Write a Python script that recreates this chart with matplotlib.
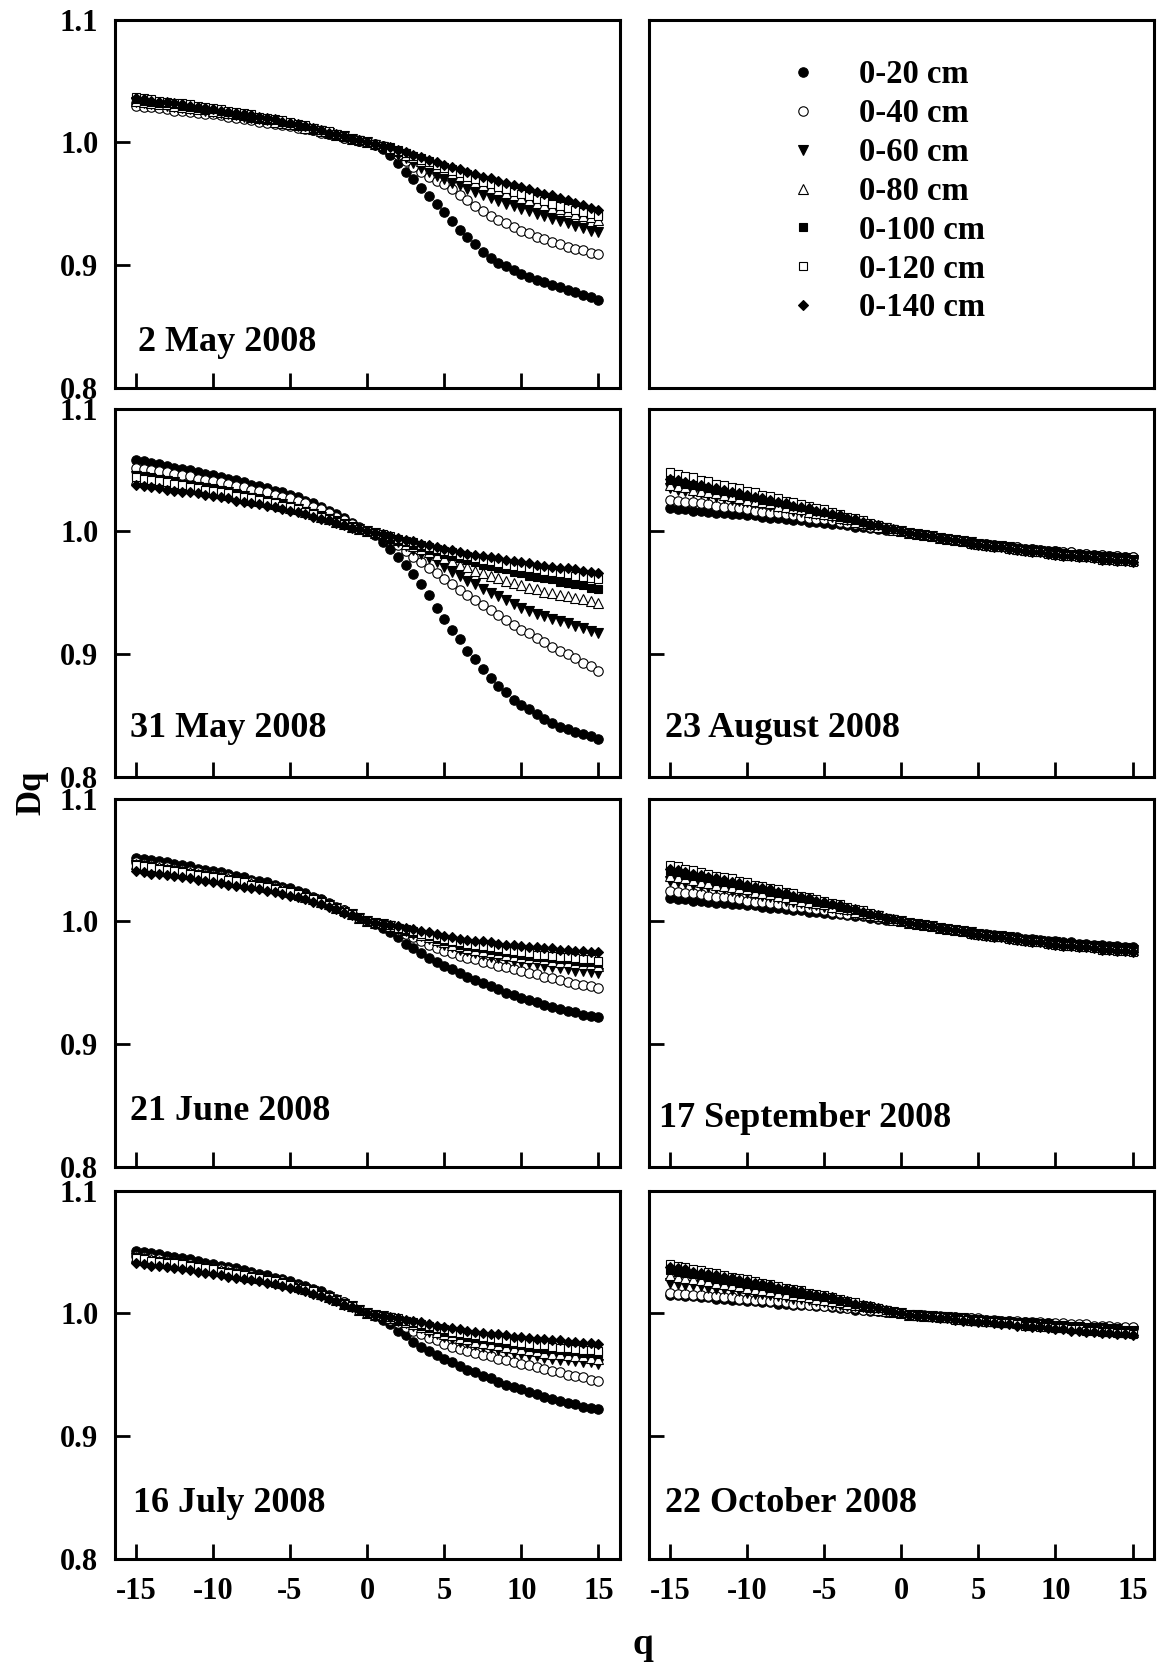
import numpy as np
import matplotlib
matplotlib.use("Agg")
import matplotlib.pyplot as plt

plt.rcParams['font.family'] = ['Liberation Serif', 'DejaVu Serif']
plt.rcParams['font.weight'] = 'bold'
plt.rcParams['axes.unicode_minus'] = False

q = [-15, -14.5, -14, -13.5, -13, -12.5, -12, -11.5, -11, -10.5,
     -10, -9.5, -9, -8.5, -8, -7.5, -7, -6.5, -6, -5.5,
     -5, -4.5, -4, -3.5, -3, -2.5, -2, -1.5, -1, -0.5,
     0, 0.5, 1, 1.5, 2, 2.5, 3, 3.5, 4, 4.5,
     5, 5.5, 6, 6.5, 7, 7.5, 8, 8.5, 9, 9.5,
     10, 10.5, 11, 11.5, 12, 12.5, 13, 13.5, 14, 14.5, 15]

depths = ['0-20 cm', '0-40 cm', '0-60 cm', '0-80 cm', '0-100 cm', '0-120 cm', '0-140 cm']

# ---- 2 May 2008
may02_20 = [1.032, 1.031, 1.030, 1.030, 1.029, 1.028, 1.027, 1.027, 1.026, 1.025, 1.024, 1.023, 1.022, 1.021, 1.020, 1.020, 1.019, 1.018, 1.016, 1.015, 1.014, 1.013, 1.012, 1.010, 1.009, 1.007, 1.006, 1.004, 1.003, 1.001, 1.000,
            0.998, 0.995, 0.990, 0.983, 0.976, 0.970, 0.963, 0.956, 0.950, 0.943, 0.936, 0.929, 0.923, 0.917, 0.911, 0.906, 0.902, 0.899, 0.896, 0.893, 0.890, 0.888, 0.886, 0.884, 0.882, 0.880, 0.878, 0.876, 0.874, 0.872]
may02_40 = [1.030, 1.029, 1.029, 1.028, 1.027, 1.026, 1.026, 1.025, 1.024, 1.023, 1.023, 1.022, 1.021, 1.020, 1.019, 1.018, 1.017, 1.016, 1.015, 1.014, 1.013, 1.012, 1.011, 1.010, 1.008, 1.007, 1.006, 1.004, 1.003, 1.001, 1.000,
            0.999, 0.997, 0.994, 0.990, 0.985, 0.980, 0.976, 0.972, 0.969, 0.966, 0.962, 0.957, 0.953, 0.948, 0.944, 0.940, 0.937, 0.934, 0.931, 0.928, 0.926, 0.923, 0.921, 0.919, 0.917, 0.915, 0.913, 0.912, 0.910, 0.909]
may02_60 = [1.033, 1.032, 1.031, 1.031, 1.030, 1.029, 1.028, 1.027, 1.027, 1.026, 1.025, 1.024, 1.023, 1.022, 1.021, 1.020, 1.019, 1.018, 1.017, 1.016, 1.015, 1.013, 1.012, 1.011, 1.009, 1.008, 1.006, 1.005, 1.003, 1.001, 1.000,
            0.998, 0.996, 0.993, 0.990, 0.987, 0.983, 0.979, 0.976, 0.973, 0.970, 0.967, 0.965, 0.962, 0.960, 0.957, 0.955, 0.952, 0.950, 0.948, 0.946, 0.944, 0.942, 0.940, 0.938, 0.936, 0.934, 0.932, 0.930, 0.928, 0.927]
may02_80 = [1.034, 1.033, 1.032, 1.031, 1.031, 1.030, 1.029, 1.028, 1.027, 1.027, 1.026, 1.025, 1.024, 1.023, 1.022, 1.021, 1.020, 1.019, 1.017, 1.016, 1.015, 1.014, 1.012, 1.011, 1.009, 1.008, 1.006, 1.005, 1.003, 1.002, 1.000,
            0.999, 0.997, 0.995, 0.993, 0.990, 0.988, 0.985, 0.983, 0.980, 0.978, 0.975, 0.973, 0.970, 0.968, 0.965, 0.963, 0.961, 0.959, 0.957, 0.955, 0.953, 0.951, 0.949, 0.947, 0.946, 0.944, 0.942, 0.940, 0.939, 0.937]
may02_100 = [1.035, 1.034, 1.033, 1.032, 1.032, 1.031, 1.030, 1.029, 1.028, 1.027, 1.027, 1.026, 1.025, 1.023, 1.022, 1.021, 1.020, 1.019, 1.018, 1.017, 1.016, 1.014, 1.013, 1.011, 1.010, 1.008, 1.006, 1.005, 1.003, 1.002, 1.000,
             0.999, 0.997, 0.996, 0.994, 0.991, 0.989, 0.987, 0.985, 0.982, 0.980, 0.978, 0.976, 0.974, 0.972, 0.969, 0.967, 0.965, 0.963, 0.961, 0.959, 0.958, 0.956, 0.954, 0.952, 0.950, 0.949, 0.947, 0.945, 0.944, 0.942]
may02_120 = [1.037, 1.036, 1.035, 1.034, 1.033, 1.032, 1.032, 1.031, 1.030, 1.029, 1.028, 1.027, 1.026, 1.025, 1.024, 1.023, 1.021, 1.020, 1.019, 1.018, 1.017, 1.015, 1.014, 1.012, 1.010, 1.009, 1.007, 1.005, 1.003, 1.002, 1.000,
             0.999, 0.997, 0.995, 0.993, 0.991, 0.989, 0.986, 0.984, 0.982, 0.979, 0.977, 0.975, 0.972, 0.970, 0.968, 0.966, 0.964, 0.962, 0.960, 0.958, 0.956, 0.954, 0.952, 0.950, 0.948, 0.947, 0.945, 0.943, 0.942, 0.940]
may02_140 = [1.036, 1.035, 1.034, 1.033, 1.033, 1.032, 1.031, 1.030, 1.029, 1.028, 1.027, 1.026, 1.025, 1.024, 1.023, 1.022, 1.021, 1.020, 1.019, 1.017, 1.016, 1.015, 1.013, 1.012, 1.010, 1.008, 1.007, 1.005, 1.003, 1.002, 1.000,
             0.999, 0.997, 0.996, 0.994, 0.992, 0.990, 0.988, 0.986, 0.984, 0.982, 0.980, 0.978, 0.976, 0.974, 0.972, 0.971, 0.969, 0.967, 0.965, 0.964, 0.962, 0.960, 0.958, 0.957, 0.955, 0.953, 0.951, 0.949, 0.947, 0.945]

# ---- 31 May 2008
may31_20 = [1.058, 1.057, 1.056, 1.055, 1.053, 1.052, 1.051, 1.050, 1.048, 1.047, 1.046, 1.044, 1.043, 1.042, 1.040, 1.038, 1.037, 1.035, 1.033, 1.032, 1.030, 1.028, 1.025, 1.023, 1.020, 1.017, 1.014, 1.011, 1.007, 1.004, 1.000,
            0.997, 0.991, 0.986, 0.979, 0.973, 0.965, 0.957, 0.948, 0.938, 0.929, 0.920, 0.912, 0.903, 0.896, 0.888, 0.881, 0.874, 0.869, 0.863, 0.859, 0.855, 0.851, 0.847, 0.844, 0.841, 0.839, 0.837, 0.835, 0.833, 0.831]
may31_40 = [1.052, 1.051, 1.050, 1.049, 1.048, 1.047, 1.046, 1.045, 1.043, 1.042, 1.041, 1.040, 1.039, 1.037, 1.036, 1.034, 1.033, 1.032, 1.030, 1.028, 1.027, 1.025, 1.023, 1.020, 1.018, 1.015, 1.012, 1.009, 1.006, 1.003, 1.000,
            0.999, 0.997, 0.994, 0.989, 0.984, 0.979, 0.975, 0.970, 0.966, 0.961, 0.957, 0.952, 0.948, 0.944, 0.940, 0.936, 0.932, 0.928, 0.924, 0.920, 0.917, 0.913, 0.910, 0.906, 0.903, 0.900, 0.897, 0.893, 0.890, 0.886]
may31_60 = [1.045, 1.044, 1.043, 1.042, 1.041, 1.040, 1.038, 1.037, 1.036, 1.035, 1.034, 1.033, 1.032, 1.030, 1.029, 1.027, 1.026, 1.025, 1.023, 1.022, 1.020, 1.018, 1.016, 1.014, 1.012, 1.010, 1.008, 1.006, 1.004, 1.002, 1.000,
            0.999, 0.996, 0.993, 0.991, 0.988, 0.985, 0.982, 0.978, 0.975, 0.971, 0.967, 0.964, 0.960, 0.957, 0.953, 0.950, 0.947, 0.944, 0.941, 0.938, 0.935, 0.933, 0.931, 0.929, 0.927, 0.925, 0.923, 0.921, 0.919, 0.917]
may31_80 = [1.043, 1.042, 1.041, 1.040, 1.039, 1.038, 1.037, 1.036, 1.035, 1.034, 1.033, 1.031, 1.030, 1.029, 1.028, 1.026, 1.025, 1.024, 1.022, 1.021, 1.019, 1.018, 1.016, 1.014, 1.012, 1.010, 1.008, 1.006, 1.004, 1.002, 1.000,
            0.999, 0.997, 0.995, 0.993, 0.990, 0.988, 0.986, 0.983, 0.981, 0.978, 0.976, 0.973, 0.971, 0.968, 0.966, 0.964, 0.962, 0.960, 0.958, 0.956, 0.954, 0.953, 0.951, 0.950, 0.948, 0.947, 0.946, 0.945, 0.943, 0.942]
may31_100 = [1.046, 1.045, 1.044, 1.043, 1.042, 1.040, 1.039, 1.038, 1.037, 1.036, 1.035, 1.034, 1.032, 1.031, 1.029, 1.028, 1.027, 1.025, 1.024, 1.022, 1.021, 1.019, 1.017, 1.015, 1.013, 1.011, 1.009, 1.006, 1.004, 1.002, 1.000,
             0.999, 0.997, 0.995, 0.993, 0.991, 0.989, 0.987, 0.985, 0.984, 0.982, 0.980, 0.978, 0.977, 0.975, 0.973, 0.972, 0.970, 0.969, 0.967, 0.966, 0.964, 0.963, 0.962, 0.961, 0.959, 0.958, 0.957, 0.956, 0.954, 0.953]
may31_120 = [1.044, 1.043, 1.042, 1.041, 1.040, 1.039, 1.038, 1.036, 1.035, 1.034, 1.033, 1.032, 1.031, 1.029, 1.028, 1.027, 1.026, 1.024, 1.023, 1.021, 1.020, 1.018, 1.016, 1.014, 1.012, 1.010, 1.008, 1.006, 1.004, 1.002, 1.000,
             0.999, 0.998, 0.996, 0.994, 0.992, 0.991, 0.989, 0.987, 0.986, 0.984, 0.983, 0.981, 0.980, 0.978, 0.977, 0.976, 0.974, 0.973, 0.972, 0.971, 0.970, 0.969, 0.968, 0.967, 0.966, 0.965, 0.964, 0.963, 0.962, 0.961]
may31_140 = [1.038, 1.037, 1.036, 1.035, 1.034, 1.033, 1.032, 1.032, 1.031, 1.030, 1.029, 1.028, 1.027, 1.025, 1.024, 1.023, 1.022, 1.021, 1.020, 1.018, 1.017, 1.016, 1.014, 1.012, 1.010, 1.009, 1.007, 1.005, 1.003, 1.002, 1.000,
             0.999, 0.998, 0.996, 0.995, 0.993, 0.992, 0.990, 0.989, 0.987, 0.986, 0.985, 0.983, 0.982, 0.981, 0.980, 0.979, 0.978, 0.977, 0.976, 0.975, 0.974, 0.973, 0.972, 0.971, 0.970, 0.970, 0.969, 0.968, 0.967, 0.966]

# ---- 21 June 2008
jun21_20 = [1.052, 1.051, 1.050, 1.049, 1.048, 1.047, 1.046, 1.045, 1.043, 1.042, 1.041, 1.040, 1.039, 1.037, 1.036, 1.034, 1.033, 1.032, 1.030, 1.028, 1.027, 1.025, 1.023, 1.020, 1.018, 1.015, 1.012, 1.009, 1.006, 1.003, 1.000,
            0.998, 0.995, 0.991, 0.987, 0.982, 0.978, 0.974, 0.970, 0.967, 0.964, 0.961, 0.958, 0.955, 0.952, 0.950, 0.947, 0.945, 0.942, 0.940, 0.938, 0.936, 0.934, 0.932, 0.930, 0.929, 0.927, 0.926, 0.924, 0.923, 0.922]
jun21_40 = [1.048, 1.047, 1.046, 1.045, 1.044, 1.043, 1.042, 1.041, 1.040, 1.039, 1.038, 1.037, 1.036, 1.034, 1.033, 1.032, 1.030, 1.029, 1.028, 1.026, 1.025, 1.023, 1.021, 1.019, 1.017, 1.014, 1.011, 1.009, 1.006, 1.003, 1.000,
            0.999, 0.998, 0.996, 0.993, 0.990, 0.987, 0.984, 0.981, 0.978, 0.976, 0.974, 0.972, 0.970, 0.969, 0.967, 0.966, 0.964, 0.963, 0.961, 0.960, 0.958, 0.957, 0.955, 0.954, 0.952, 0.951, 0.949, 0.948, 0.947, 0.946]
jun21_60 = [1.046, 1.045, 1.044, 1.043, 1.042, 1.041, 1.040, 1.039, 1.038, 1.037, 1.036, 1.035, 1.034, 1.033, 1.032, 1.030, 1.029, 1.028, 1.026, 1.025, 1.024, 1.022, 1.020, 1.018, 1.016, 1.013, 1.011, 1.008, 1.006, 1.003, 1.000,
            0.999, 0.998, 0.996, 0.994, 0.992, 0.990, 0.988, 0.986, 0.983, 0.981, 0.979, 0.977, 0.976, 0.974, 0.973, 0.971, 0.970, 0.969, 0.968, 0.967, 0.966, 0.965, 0.964, 0.963, 0.962, 0.961, 0.960, 0.960, 0.959, 0.958]
jun21_80 = [1.047, 1.046, 1.045, 1.044, 1.043, 1.042, 1.041, 1.040, 1.039, 1.038, 1.037, 1.036, 1.035, 1.034, 1.032, 1.031, 1.030, 1.028, 1.027, 1.026, 1.024, 1.022, 1.020, 1.018, 1.016, 1.014, 1.011, 1.009, 1.006, 1.003, 1.000,
            0.999, 0.998, 0.996, 0.995, 0.993, 0.991, 0.989, 0.987, 0.985, 0.983, 0.981, 0.980, 0.978, 0.977, 0.976, 0.975, 0.974, 0.973, 0.972, 0.971, 0.970, 0.970, 0.969, 0.968, 0.967, 0.967, 0.966, 0.965, 0.965, 0.964]
jun21_100 = [1.045, 1.044, 1.043, 1.042, 1.041, 1.041, 1.040, 1.039, 1.038, 1.037, 1.036, 1.034, 1.033, 1.032, 1.031, 1.030, 1.029, 1.027, 1.026, 1.025, 1.023, 1.021, 1.020, 1.018, 1.015, 1.013, 1.011, 1.008, 1.006, 1.003, 1.000,
             0.999, 0.998, 0.997, 0.995, 0.993, 0.991, 0.990, 0.988, 0.986, 0.984, 0.983, 0.981, 0.980, 0.979, 0.978, 0.977, 0.976, 0.975, 0.974, 0.973, 0.972, 0.971, 0.971, 0.970, 0.969, 0.969, 0.968, 0.967, 0.967, 0.966]
jun21_120 = [1.046, 1.045, 1.044, 1.043, 1.042, 1.041, 1.040, 1.039, 1.038, 1.037, 1.036, 1.035, 1.034, 1.033, 1.032, 1.030, 1.029, 1.028, 1.026, 1.025, 1.024, 1.022, 1.020, 1.018, 1.016, 1.013, 1.011, 1.008, 1.006, 1.003, 1.000,
             0.999, 0.998, 0.997, 0.995, 0.994, 0.992, 0.990, 0.989, 0.987, 0.986, 0.984, 0.983, 0.982, 0.981, 0.980, 0.979, 0.978, 0.977, 0.976, 0.975, 0.974, 0.973, 0.973, 0.972, 0.971, 0.971, 0.970, 0.969, 0.969, 0.968]
jun21_140 = [1.041, 1.040, 1.039, 1.039, 1.038, 1.037, 1.036, 1.035, 1.034, 1.033, 1.032, 1.031, 1.030, 1.029, 1.028, 1.027, 1.026, 1.025, 1.024, 1.022, 1.021, 1.020, 1.018, 1.016, 1.014, 1.012, 1.010, 1.007, 1.005, 1.003, 1.000,
             0.999, 0.998, 0.997, 0.996, 0.995, 0.994, 0.992, 0.991, 0.990, 0.988, 0.987, 0.986, 0.985, 0.984, 0.984, 0.983, 0.982, 0.981, 0.981, 0.980, 0.979, 0.979, 0.978, 0.978, 0.977, 0.977, 0.976, 0.976, 0.975, 0.975]

# ---- 16 July 2008
jul16_20 = [1.051, 1.050, 1.049, 1.048, 1.047, 1.046, 1.045, 1.044, 1.043, 1.041, 1.040, 1.039, 1.038, 1.037, 1.035, 1.034, 1.032, 1.031, 1.029, 1.028, 1.026, 1.024, 1.022, 1.020, 1.018, 1.015, 1.012, 1.009, 1.006, 1.003, 1.000,
            0.998, 0.995, 0.991, 0.986, 0.982, 0.977, 0.973, 0.969, 0.966, 0.963, 0.960, 0.957, 0.954, 0.952, 0.949, 0.947, 0.944, 0.942, 0.940, 0.938, 0.936, 0.934, 0.932, 0.930, 0.929, 0.927, 0.926, 0.924, 0.923, 0.922]
jul16_40 = [1.047, 1.046, 1.045, 1.044, 1.043, 1.042, 1.041, 1.040, 1.039, 1.038, 1.037, 1.036, 1.035, 1.034, 1.032, 1.031, 1.030, 1.028, 1.027, 1.026, 1.024, 1.022, 1.020, 1.018, 1.016, 1.014, 1.011, 1.009, 1.006, 1.003, 1.000,
            0.999, 0.998, 0.995, 0.992, 0.989, 0.986, 0.983, 0.980, 0.978, 0.975, 0.973, 0.971, 0.969, 0.968, 0.966, 0.965, 0.963, 0.962, 0.960, 0.959, 0.958, 0.956, 0.955, 0.953, 0.952, 0.950, 0.949, 0.948, 0.946, 0.945]
jul16_60 = [1.045, 1.044, 1.043, 1.042, 1.041, 1.041, 1.040, 1.039, 1.038, 1.037, 1.036, 1.034, 1.033, 1.032, 1.031, 1.030, 1.029, 1.027, 1.026, 1.025, 1.023, 1.021, 1.020, 1.018, 1.015, 1.013, 1.011, 1.008, 1.006, 1.003, 1.000,
            0.999, 0.998, 0.996, 0.994, 0.992, 0.990, 0.988, 0.985, 0.983, 0.981, 0.979, 0.977, 0.976, 0.974, 0.973, 0.972, 0.970, 0.969, 0.968, 0.967, 0.966, 0.965, 0.964, 0.963, 0.962, 0.962, 0.961, 0.960, 0.960, 0.959]
jul16_80 = [1.046, 1.045, 1.044, 1.043, 1.042, 1.041, 1.040, 1.039, 1.038, 1.037, 1.036, 1.035, 1.034, 1.033, 1.032, 1.030, 1.029, 1.028, 1.026, 1.025, 1.024, 1.022, 1.020, 1.018, 1.016, 1.013, 1.011, 1.008, 1.006, 1.003, 1.000,
            0.999, 0.998, 0.996, 0.995, 0.993, 0.991, 0.989, 0.987, 0.985, 0.983, 0.982, 0.980, 0.979, 0.977, 0.976, 0.975, 0.974, 0.973, 0.972, 0.971, 0.970, 0.969, 0.968, 0.967, 0.967, 0.966, 0.965, 0.965, 0.964, 0.963]
jul16_100 = [1.044, 1.043, 1.042, 1.041, 1.041, 1.040, 1.039, 1.038, 1.037, 1.036, 1.035, 1.034, 1.033, 1.031, 1.030, 1.029, 1.028, 1.027, 1.025, 1.024, 1.023, 1.021, 1.019, 1.017, 1.015, 1.013, 1.011, 1.008, 1.005, 1.003, 1.000,
             0.999, 0.998, 0.997, 0.995, 0.994, 0.992, 0.990, 0.988, 0.987, 0.985, 0.984, 0.982, 0.981, 0.980, 0.979, 0.978, 0.977, 0.976, 0.975, 0.974, 0.973, 0.972, 0.971, 0.971, 0.970, 0.969, 0.969, 0.968, 0.968, 0.967]
jul16_120 = [1.045, 1.044, 1.043, 1.042, 1.041, 1.041, 1.040, 1.039, 1.038, 1.037, 1.036, 1.034, 1.033, 1.032, 1.031, 1.030, 1.029, 1.027, 1.026, 1.025, 1.023, 1.021, 1.020, 1.018, 1.015, 1.013, 1.011, 1.008, 1.006, 1.003, 1.000,
             0.999, 0.998, 0.997, 0.996, 0.994, 0.993, 0.991, 0.990, 0.988, 0.987, 0.985, 0.984, 0.983, 0.982, 0.981, 0.980, 0.979, 0.978, 0.977, 0.976, 0.975, 0.974, 0.974, 0.973, 0.972, 0.972, 0.971, 0.970, 0.970, 0.969]
jul16_140 = [1.041, 1.040, 1.039, 1.039, 1.038, 1.037, 1.036, 1.035, 1.034, 1.033, 1.032, 1.031, 1.030, 1.029, 1.028, 1.027, 1.026, 1.025, 1.024, 1.022, 1.021, 1.020, 1.018, 1.016, 1.014, 1.012, 1.010, 1.007, 1.005, 1.003, 1.000,
             0.999, 0.998, 0.997, 0.996, 0.995, 0.994, 0.993, 0.991, 0.990, 0.989, 0.988, 0.987, 0.986, 0.985, 0.984, 0.983, 0.983, 0.982, 0.981, 0.981, 0.980, 0.979, 0.979, 0.978, 0.978, 0.977, 0.977, 0.976, 0.976, 0.975]

# ---- 23 August 2008
aug23_20 = [1.019, 1.018, 1.018, 1.017, 1.017, 1.016, 1.015, 1.015, 1.014, 1.014, 1.013, 1.013, 1.012, 1.011, 1.011, 1.010, 1.009, 1.009, 1.008, 1.008, 1.007, 1.006, 1.006, 1.005, 1.004, 1.004, 1.003, 1.002, 1.001, 1.001, 1.000,
            0.999, 0.998, 0.997, 0.996, 0.995, 0.994, 0.993, 0.992, 0.991, 0.990, 0.990, 0.989, 0.988, 0.987, 0.987, 0.986, 0.986, 0.985, 0.984, 0.984, 0.983, 0.983, 0.982, 0.982, 0.981, 0.981, 0.980, 0.980, 0.979, 0.979]
aug23_40 = [1.026, 1.025, 1.024, 1.024, 1.023, 1.022, 1.021, 1.020, 1.020, 1.019, 1.018, 1.017, 1.016, 1.015, 1.015, 1.014, 1.013, 1.012, 1.011, 1.010, 1.010, 1.009, 1.008, 1.007, 1.006, 1.005, 1.004, 1.003, 1.002, 1.001, 1.000,
            0.999, 0.998, 0.997, 0.996, 0.995, 0.994, 0.993, 0.992, 0.991, 0.990, 0.990, 0.989, 0.988, 0.987, 0.987, 0.986, 0.986, 0.985, 0.984, 0.984, 0.983, 0.983, 0.982, 0.982, 0.981, 0.981, 0.980, 0.980, 0.979, 0.979]
aug23_60 = [1.035, 1.034, 1.033, 1.032, 1.031, 1.030, 1.028, 1.027, 1.026, 1.025, 1.024, 1.023, 1.022, 1.021, 1.020, 1.019, 1.017, 1.016, 1.015, 1.014, 1.013, 1.012, 1.010, 1.009, 1.008, 1.006, 1.005, 1.004, 1.003, 1.001, 1.000,
            0.999, 0.998, 0.997, 0.996, 0.995, 0.994, 0.993, 0.992, 0.991, 0.990, 0.989, 0.988, 0.988, 0.987, 0.986, 0.985, 0.985, 0.984, 0.983, 0.983, 0.982, 0.981, 0.981, 0.980, 0.980, 0.979, 0.979, 0.978, 0.978, 0.977]
aug23_80 = [1.038, 1.037, 1.036, 1.034, 1.033, 1.032, 1.031, 1.030, 1.029, 1.027, 1.026, 1.025, 1.024, 1.023, 1.021, 1.020, 1.019, 1.018, 1.016, 1.015, 1.014, 1.013, 1.011, 1.010, 1.008, 1.007, 1.006, 1.004, 1.003, 1.001, 1.000,
            0.999, 0.998, 0.997, 0.996, 0.995, 0.994, 0.993, 0.992, 0.991, 0.990, 0.989, 0.988, 0.988, 0.987, 0.986, 0.985, 0.985, 0.984, 0.983, 0.983, 0.982, 0.981, 0.981, 0.980, 0.980, 0.979, 0.979, 0.978, 0.978, 0.977]
aug23_100 = [1.042, 1.041, 1.039, 1.038, 1.037, 1.035, 1.034, 1.033, 1.032, 1.030, 1.029, 1.028, 1.026, 1.025, 1.024, 1.022, 1.021, 1.020, 1.018, 1.017, 1.016, 1.014, 1.012, 1.011, 1.009, 1.008, 1.006, 1.005, 1.003, 1.002, 1.000,
             0.999, 0.998, 0.997, 0.996, 0.995, 0.994, 0.993, 0.992, 0.991, 0.990, 0.989, 0.988, 0.988, 0.987, 0.986, 0.985, 0.985, 0.984, 0.983, 0.983, 0.982, 0.981, 0.981, 0.980, 0.980, 0.979, 0.979, 0.978, 0.978, 0.977]
aug23_120 = [1.048, 1.047, 1.045, 1.044, 1.042, 1.041, 1.039, 1.038, 1.036, 1.035, 1.033, 1.032, 1.030, 1.029, 1.027, 1.025, 1.024, 1.022, 1.021, 1.019, 1.018, 1.016, 1.014, 1.012, 1.011, 1.009, 1.007, 1.005, 1.004, 1.002, 1.000,
             0.999, 0.998, 0.997, 0.996, 0.995, 0.994, 0.993, 0.992, 0.990, 0.989, 0.988, 0.987, 0.987, 0.986, 0.985, 0.984, 0.983, 0.983, 0.982, 0.981, 0.980, 0.980, 0.979, 0.979, 0.978, 0.977, 0.977, 0.976, 0.976, 0.975]
aug23_140 = [1.043, 1.042, 1.040, 1.039, 1.038, 1.036, 1.035, 1.034, 1.032, 1.031, 1.030, 1.028, 1.027, 1.026, 1.024, 1.023, 1.021, 1.020, 1.019, 1.017, 1.016, 1.014, 1.013, 1.011, 1.010, 1.008, 1.006, 1.005, 1.003, 1.002, 1.000,
             0.999, 0.998, 0.997, 0.996, 0.995, 0.994, 0.993, 0.992, 0.990, 0.989, 0.988, 0.987, 0.987, 0.986, 0.985, 0.984, 0.983, 0.983, 0.982, 0.981, 0.980, 0.980, 0.979, 0.979, 0.978, 0.977, 0.977, 0.976, 0.976, 0.975]

# ---- 17 September 2008
sep17_20 = [1.019, 1.018, 1.018, 1.017, 1.017, 1.016, 1.015, 1.015, 1.014, 1.014, 1.013, 1.013, 1.012, 1.011, 1.011, 1.010, 1.009, 1.009, 1.008, 1.008, 1.007, 1.006, 1.006, 1.005, 1.004, 1.004, 1.003, 1.002, 1.001, 1.001, 1.000,
            0.999, 0.998, 0.997, 0.996, 0.995, 0.994, 0.993, 0.992, 0.991, 0.990, 0.990, 0.989, 0.988, 0.987, 0.987, 0.986, 0.986, 0.985, 0.984, 0.984, 0.983, 0.983, 0.982, 0.982, 0.981, 0.981, 0.980, 0.980, 0.979, 0.979]
sep17_40 = [1.025, 1.024, 1.023, 1.023, 1.022, 1.021, 1.020, 1.020, 1.019, 1.018, 1.017, 1.016, 1.016, 1.015, 1.014, 1.013, 1.012, 1.012, 1.011, 1.010, 1.009, 1.008, 1.007, 1.006, 1.006, 1.005, 1.004, 1.003, 1.002, 1.001, 1.000,
            0.999, 0.998, 0.997, 0.996, 0.995, 0.994, 0.993, 0.992, 0.991, 0.990, 0.989, 0.988, 0.988, 0.987, 0.986, 0.985, 0.985, 0.984, 0.983, 0.983, 0.982, 0.981, 0.981, 0.980, 0.980, 0.979, 0.979, 0.978, 0.978, 0.977]
sep17_60 = [1.033, 1.032, 1.031, 1.030, 1.029, 1.028, 1.027, 1.026, 1.025, 1.024, 1.023, 1.022, 1.021, 1.020, 1.019, 1.017, 1.016, 1.015, 1.014, 1.013, 1.012, 1.011, 1.010, 1.009, 1.007, 1.006, 1.005, 1.004, 1.002, 1.001, 1.000,
            0.999, 0.998, 0.997, 0.996, 0.995, 0.994, 0.993, 0.992, 0.991, 0.990, 0.989, 0.988, 0.988, 0.987, 0.986, 0.985, 0.985, 0.984, 0.983, 0.983, 0.982, 0.981, 0.981, 0.980, 0.980, 0.979, 0.979, 0.978, 0.978, 0.977]
sep17_80 = [1.037, 1.036, 1.035, 1.034, 1.032, 1.031, 1.030, 1.029, 1.028, 1.027, 1.026, 1.024, 1.023, 1.022, 1.021, 1.020, 1.018, 1.017, 1.016, 1.015, 1.014, 1.012, 1.011, 1.010, 1.008, 1.007, 1.005, 1.004, 1.003, 1.001, 1.000,
            0.999, 0.998, 0.997, 0.996, 0.995, 0.994, 0.993, 0.992, 0.991, 0.990, 0.989, 0.988, 0.988, 0.987, 0.986, 0.985, 0.985, 0.984, 0.983, 0.983, 0.982, 0.981, 0.981, 0.980, 0.980, 0.979, 0.979, 0.978, 0.978, 0.977]
sep17_100 = [1.041, 1.040, 1.038, 1.037, 1.036, 1.035, 1.033, 1.032, 1.031, 1.030, 1.028, 1.027, 1.026, 1.024, 1.023, 1.022, 1.020, 1.019, 1.018, 1.016, 1.015, 1.014, 1.012, 1.011, 1.009, 1.008, 1.006, 1.005, 1.003, 1.002, 1.000,
             0.999, 0.998, 0.997, 0.996, 0.995, 0.994, 0.993, 0.992, 0.991, 0.990, 0.989, 0.988, 0.988, 0.987, 0.986, 0.985, 0.985, 0.984, 0.983, 0.983, 0.982, 0.981, 0.981, 0.980, 0.980, 0.979, 0.979, 0.978, 0.978, 0.977]
sep17_120 = [1.046, 1.045, 1.043, 1.042, 1.040, 1.039, 1.037, 1.036, 1.035, 1.033, 1.032, 1.030, 1.029, 1.027, 1.026, 1.024, 1.023, 1.021, 1.020, 1.018, 1.017, 1.015, 1.014, 1.012, 1.010, 1.009, 1.007, 1.005, 1.003, 1.002, 1.000,
             0.999, 0.998, 0.997, 0.996, 0.995, 0.994, 0.993, 0.992, 0.990, 0.989, 0.988, 0.987, 0.987, 0.986, 0.985, 0.984, 0.983, 0.983, 0.982, 0.981, 0.980, 0.980, 0.979, 0.979, 0.978, 0.977, 0.977, 0.976, 0.976, 0.975]
sep17_140 = [1.043, 1.042, 1.040, 1.039, 1.038, 1.036, 1.035, 1.034, 1.032, 1.031, 1.030, 1.028, 1.027, 1.026, 1.024, 1.023, 1.021, 1.020, 1.019, 1.017, 1.016, 1.014, 1.013, 1.011, 1.010, 1.008, 1.006, 1.005, 1.003, 1.002, 1.000,
             0.999, 0.998, 0.997, 0.996, 0.995, 0.994, 0.993, 0.992, 0.990, 0.989, 0.988, 0.987, 0.987, 0.986, 0.985, 0.984, 0.983, 0.983, 0.982, 0.981, 0.980, 0.980, 0.979, 0.979, 0.978, 0.977, 0.977, 0.976, 0.976, 0.975]

# ---- 22 October 2008
oct22_20 = [1.015, 1.015, 1.014, 1.014, 1.013, 1.013, 1.012, 1.012, 1.011, 1.011, 1.010, 1.010, 1.009, 1.009, 1.008, 1.008, 1.007, 1.007, 1.007, 1.006, 1.006, 1.005, 1.004, 1.004, 1.003, 1.003, 1.002, 1.002, 1.001, 1.001, 1.000,
            0.999, 0.999, 0.998, 0.998, 0.997, 0.997, 0.997, 0.996, 0.996, 0.995, 0.995, 0.994, 0.994, 0.994, 0.993, 0.993, 0.992, 0.992, 0.992, 0.991, 0.991, 0.990, 0.990, 0.990, 0.989, 0.989, 0.989, 0.988, 0.988, 0.988]
oct22_40 = [1.017, 1.016, 1.016, 1.015, 1.015, 1.014, 1.014, 1.013, 1.013, 1.012, 1.012, 1.011, 1.011, 1.010, 1.010, 1.009, 1.008, 1.008, 1.007, 1.007, 1.006, 1.006, 1.005, 1.004, 1.004, 1.003, 1.003, 1.002, 1.001, 1.001, 1.000,
            0.999, 0.999, 0.999, 0.998, 0.998, 0.997, 0.997, 0.996, 0.996, 0.996, 0.995, 0.995, 0.994, 0.994, 0.994, 0.993, 0.993, 0.993, 0.992, 0.992, 0.992, 0.991, 0.991, 0.991, 0.990, 0.990, 0.990, 0.989, 0.989, 0.989]
oct22_60 = [1.025, 1.024, 1.023, 1.023, 1.022, 1.021, 1.020, 1.020, 1.019, 1.018, 1.017, 1.016, 1.016, 1.015, 1.014, 1.013, 1.012, 1.012, 1.011, 1.010, 1.009, 1.008, 1.007, 1.006, 1.006, 1.005, 1.004, 1.003, 1.002, 1.001, 1.000,
            0.999, 0.999, 0.998, 0.998, 0.997, 0.997, 0.996, 0.996, 0.995, 0.995, 0.994, 0.994, 0.993, 0.993, 0.992, 0.992, 0.992, 0.991, 0.991, 0.990, 0.990, 0.989, 0.989, 0.988, 0.988, 0.988, 0.987, 0.987, 0.986, 0.986]
oct22_80 = [1.031, 1.030, 1.029, 1.028, 1.027, 1.026, 1.025, 1.024, 1.023, 1.022, 1.021, 1.020, 1.019, 1.018, 1.017, 1.016, 1.015, 1.014, 1.013, 1.012, 1.011, 1.010, 1.009, 1.008, 1.007, 1.006, 1.005, 1.003, 1.002, 1.001, 1.000,
            0.999, 0.999, 0.998, 0.998, 0.997, 0.997, 0.996, 0.996, 0.995, 0.995, 0.994, 0.994, 0.993, 0.993, 0.992, 0.992, 0.991, 0.991, 0.990, 0.990, 0.989, 0.989, 0.988, 0.988, 0.987, 0.987, 0.986, 0.986, 0.985, 0.985]
oct22_100 = [1.035, 1.034, 1.033, 1.032, 1.031, 1.030, 1.028, 1.027, 1.026, 1.025, 1.024, 1.023, 1.022, 1.021, 1.020, 1.019, 1.017, 1.016, 1.015, 1.014, 1.013, 1.012, 1.010, 1.009, 1.008, 1.006, 1.005, 1.004, 1.003, 1.001, 1.000,
             0.999, 0.999, 0.998, 0.997, 0.997, 0.996, 0.996, 0.995, 0.995, 0.994, 0.994, 0.993, 0.993, 0.992, 0.992, 0.991, 0.991, 0.990, 0.990, 0.989, 0.989, 0.988, 0.988, 0.987, 0.987, 0.986, 0.986, 0.985, 0.985, 0.984]
oct22_120 = [1.040, 1.039, 1.038, 1.036, 1.035, 1.034, 1.033, 1.031, 1.030, 1.029, 1.028, 1.026, 1.025, 1.024, 1.022, 1.021, 1.020, 1.019, 1.017, 1.016, 1.015, 1.013, 1.012, 1.010, 1.009, 1.007, 1.006, 1.004, 1.003, 1.001, 1.000,
             0.999, 0.998, 0.998, 0.997, 0.997, 0.996, 0.995, 0.995, 0.994, 0.994, 0.993, 0.993, 0.992, 0.992, 0.991, 0.990, 0.990, 0.989, 0.989, 0.988, 0.988, 0.987, 0.987, 0.986, 0.986, 0.985, 0.985, 0.984, 0.984, 0.983]
oct22_140 = [1.038, 1.037, 1.036, 1.034, 1.033, 1.032, 1.031, 1.030, 1.029, 1.027, 1.026, 1.025, 1.024, 1.023, 1.021, 1.020, 1.019, 1.018, 1.016, 1.015, 1.014, 1.013, 1.011, 1.010, 1.008, 1.007, 1.006, 1.004, 1.003, 1.001, 1.000,
             0.999, 0.998, 0.998, 0.997, 0.996, 0.996, 0.995, 0.994, 0.994, 0.993, 0.993, 0.992, 0.991, 0.991, 0.990, 0.990, 0.989, 0.989, 0.988, 0.987, 0.987, 0.986, 0.986, 0.985, 0.985, 0.984, 0.984, 0.983, 0.983, 0.982]

may02 = [may02_20, may02_40, may02_60, may02_80, may02_100, may02_120, may02_140]
may31 = [may31_20, may31_40, may31_60, may31_80, may31_100, may31_120, may31_140]
jun21 = [jun21_20, jun21_40, jun21_60, jun21_80, jun21_100, jun21_120, jun21_140]
jul16 = [jul16_20, jul16_40, jul16_60, jul16_80, jul16_100, jul16_120, jul16_140]
aug23 = [aug23_20, aug23_40, aug23_60, aug23_80, aug23_100, aug23_120, aug23_140]
sep17 = [sep17_20, sep17_40, sep17_60, sep17_80, sep17_100, sep17_120, sep17_140]
oct22 = [oct22_20, oct22_40, oct22_60, oct22_80, oct22_100, oct22_120, oct22_140]

# marker, face colour, size for each depth
markers = ['o', 'o', 'v', '^', 's', 's', 'D']
faces = ['k', 'w', 'k', 'w', 'k', 'w', 'k']
msizes = [6.8, 6.8, 7.2, 7.2, 6.0, 6.0, 5.6]

# panel layout: (series, title, row, col, label x, label y)
panels = [
    (may02, '2 May 2008', 0, 0, 0.046, 0.100),
    (may31, '31 May 2008', 1, 0, 0.030, 0.108),
    (jun21, '21 June 2008', 2, 0, 0.030, 0.127),
    (jul16, '16 July 2008', 3, 0, 0.036, 0.127),
    (aug23, '23 August 2008', 1, 1, 0.032, 0.108),
    (sep17, '17 September 2008', 2, 1, 0.020, 0.109),
    (oct22, '22 October 2008', 3, 1, 0.032, 0.127),
]

col_x = [0.0994, 0.561]
row_y = [0.7674, 0.5342, 0.3004, 0.0654]
pw, ph = 0.4365, 0.2208

fig = plt.figure(figsize=(11.57, 16.68), dpi=100)

handles = None
for series, title, r, c, tx, ty in panels:
    ax = fig.add_axes([col_x[c], row_y[r], pw, ph])
    lines = []
    for vals, mk, fc, ms in zip(series, markers, faces, msizes):
        ln, = ax.plot(q, vals, linestyle='none', marker=mk, markerfacecolor=fc,
                      markeredgecolor='k', markeredgewidth=0.8, markersize=ms)
        lines.append(ln)
    if handles is None:
        handles = lines
    ax.set_xlim(-16.35, 16.4)
    ax.set_ylim(0.8, 1.1)
    ax.set_xticks([-15, -10, -5, 0, 5, 10, 15])
    ax.set_yticks([0.8, 0.9, 1.0, 1.1])
    ax.yaxis.set_major_formatter('{x:.1f}')
    ax.tick_params(direction='in', length=11, width=2, labelsize=22,
                   top=False, right=False,
                   labelleft=(c == 0), labelbottom=(r == 3))
    ax.tick_params(axis='y', pad=12)
    ax.tick_params(axis='x', pad=13)
    for sp in ax.spines.values():
        sp.set_linewidth(2.2)
    ax.text(tx, ty, title, transform=ax.transAxes, fontsize=26,
            fontweight='bold', ha='left', va='baseline')

# legend panel
axl = fig.add_axes([col_x[1], row_y[0], pw, ph])
axl.set_xticks([])
axl.set_yticks([])
for sp in axl.spines.values():
    sp.set_linewidth(2.2)
axl.legend(handles, depths, loc='upper left', bbox_to_anchor=(0.273, 0.892),
           frameon=False, numpoints=1, handlelength=1.0, handletextpad=1.22,
           labelspacing=0.24, borderpad=0, borderaxespad=0,
           prop={'size': 23.5, 'weight': 'bold'})

fig.text(0.028, 0.525, 'Dq', rotation=90, ha='center', va='center',
         fontsize=25, fontweight='bold')
fig.text(0.556, 0.014, 'q', ha='center', va='center', fontsize=27,
         fontweight='bold')

fig.savefig('out.png', dpi=100)
